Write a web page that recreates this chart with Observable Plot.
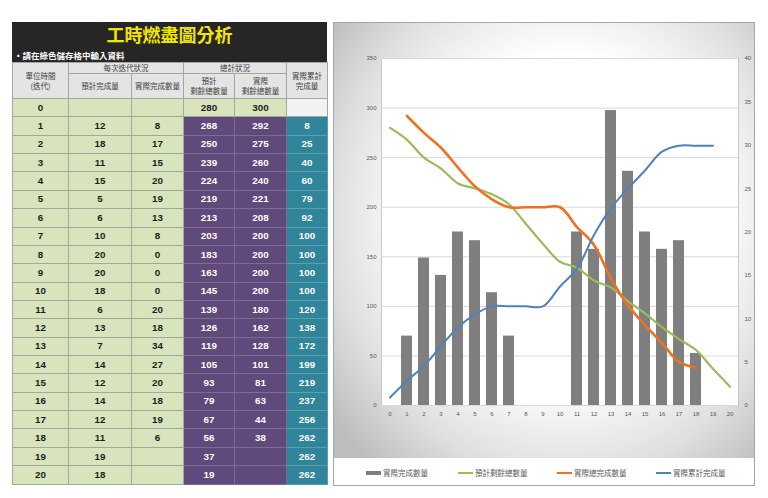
<!DOCTYPE html>
<html><head><meta charset="utf-8">
<script src="https://cdn.jsdelivr.net/npm/d3@7"></script>
<script src="https://cdn.jsdelivr.net/npm/@observablehq/plot@0.6"></script>
<style>
body{margin:0;background:#fff;width:768px;height:498px;position:relative;overflow:hidden;font-family:"Liberation Sans","Noto Sans CJK TC",sans-serif;}
#tbl{position:absolute;left:12px;top:22px;width:315px;}
#tbl .title{background:#262626;height:40px;position:relative;}
#tbl .title .t{position:absolute;left:0;right:0;top:0px;text-align:center;color:#f2e600;font:bold 18px "Noto Sans CJK TC",sans-serif;line-height:24px;}
#tbl .title .s{position:absolute;left:2px;top:27px;color:#fff;font:bold 8.5px "Noto Sans CJK TC",sans-serif;line-height:12px;}
table{border-collapse:collapse;table-layout:fixed;width:315px;}
td{border:1px solid #a3a89f;text-align:center;font-weight:bold;font-size:9.8px;padding:0;line-height:10px;overflow:hidden;white-space:pre-line;}
tr.d{height:18.36px;}
td.h{background:#e4e4e4;color:#404040;font-weight:normal;font-size:7.5px;font-family:"Noto Sans CJK TC",sans-serif;line-height:10px;}
td.g{background:#d8e4bc;color:#1d1d1d;}
td.p{background:#5f4a7b;color:#fff;border-color:#7d6b94;}
td.c{background:#31859b;color:#fff;border-color:#5a9fb0;}
td.w{background:#f2f2f2;}
#chart{position:absolute;left:333px;top:22px;width:420px;height:462px;border:1px solid #a6a6a6;background:#fff;}
#plotwrap{position:absolute;left:0;top:0;width:420px;height:435px;background:radial-gradient(ellipse 70% 75% at 55% 45%, #ffffff 50%, #e0e0e0 78%, #bdbdbd 100%);}
#legend{position:absolute;left:0;top:440px;width:420px;height:20px;font:7.5px "Noto Sans CJK TC",sans-serif;color:#595959;}
#legend .it{position:absolute;top:4px;display:flex;align-items:center;white-space:nowrap;}
#legend svg{margin-right:2px;}
</style></head>
<body>
<div id="tbl"><div class="title"><div class="t"></div><div class="s"></div></div><table id="tt"></table></div>
<div id="chart"><div id="plotwrap"></div><div id="legend"></div></div>
<script>
const titleText = "工時燃盡圖分析";
const noteText = "•請在綠色儲存格中輸入資料";
const groupHeaders = ["每次迭代狀況", "總計狀況"];
const colHeaders = ["單位時間\n(迭代)", "預計完成量", "實際完成數量", "預計\n剩餘總數量", "實際\n剩餘總數量", "實際累計\n完成量"];
const iterations = [0,1,2,3,4,5,6,7,8,9,10,11,12,13,14,15,16,17,18,19,20];
const plannedDone = [null,12,18,11,15,5,6,10,20,20,18,6,13,7,14,12,14,12,11,19,18];
const actualDone = [null,8,17,15,20,19,13,8,0,0,0,20,18,34,27,20,18,19,6,null,null];
const plannedRemaining = [280,268,250,239,224,219,213,203,183,163,145,139,126,119,105,93,79,67,56,37,19];
const actualRemaining = [300,292,275,260,240,221,208,200,200,200,200,180,162,128,101,81,63,44,38,null,null];
const cumulativeDone = [null,8,25,40,60,79,92,100,100,100,100,120,138,172,199,219,237,256,262,262,262];
const seriesNames = ["實際完成數量", "預計剩餘總數量", "實際總完成數量", "實際累計完成量"];
const seriesColors = ["#7f7f7f", "#9bbb59", "#f0701e", "#4f81bd"];
const leftTicks = [0,50,100,150,200,250,300,350];
const rightTicks = [0,5,10,15,20,25,30,35,40];

// ---- table ----
document.querySelector("#tbl .t").textContent = titleText;
document.querySelector("#tbl .s").textContent = noteText;
const tt = document.getElementById("tt");
const colW = [56,63,52,51,52,41];
let html = "<colgroup>" + colW.map(w => `<col style="width:${w}px">`).join("") + "</colgroup>";
html += `<tr style="height:11px"><td class="h" rowspan="2">${colHeaders[0]}</td><td class="h" colspan="2">${groupHeaders[0]}</td><td class="h" colspan="2">${groupHeaders[1]}</td><td class="h" rowspan="2">${colHeaders[5]}</td></tr>`;
html += `<tr style="height:25px">${colHeaders.slice(1,5).map(h => `<td class="h">${h}</td>`).join("")}</tr>`;
const fmt = v => v == null ? "" : v;
iterations.forEach((it, i) => {
  const r0 = i === 0;
  html += `<tr class="d">` +
    `<td class="g">${it}</td>` +
    `<td class="g">${fmt(plannedDone[i])}</td>` +
    `<td class="g">${fmt(actualDone[i])}</td>` +
    `<td class="${r0 ? "g" : "p"}">${fmt(plannedRemaining[i])}</td>` +
    `<td class="${r0 ? "g" : "p"}">${fmt(actualRemaining[i])}</td>` +
    `<td class="${r0 ? "w" : "c"}">${fmt(cumulativeDone[i])}</td>` + "</tr>";
});
tt.innerHTML = html;

// ---- chart ----
const k = 350 / 40;
const bars = iterations.map((x, i) => ({x, v: actualDone[i]})).filter(d => d.v != null);
const green = iterations.map((x, i) => ({x, v: plannedRemaining[i]}));
const orange = iterations.map((x, i) => ({x, v: actualRemaining[i]})).filter(d => d.x >= 1 && d.v != null);
const blue = iterations.map((x, i) => ({x: x - 1, v: cumulativeDone[i]})).filter(d => d.v != null);

const chart = Plot.plot({
  width: 420, height: 435,
  marginLeft: 47, marginRight: 16, marginTop: 35, marginBottom: 53,
  style: {background: "transparent", fontSize: "6px", color: "#595959", fontFamily: "Liberation Sans, sans-serif"},
  x: {type: "band", domain: iterations, paddingInner: 0.35, paddingOuter: 0.175, label: null},
  y: {domain: [0, 350], label: null},
  marks: [
    Plot.frame({fill: "white", stroke: "#c8c8c8"}),
    Plot.gridY(leftTicks, {stroke: "#d9d9d9", strokeOpacity: 1}),
    Plot.axisY(leftTicks, {anchor: "left", tickSize: 0, tickPadding: 5, label: null}),
    Plot.axisY(rightTicks.map(v => v * k), {anchor: "right", tickSize: 0, tickPadding: 6, label: null, tickFormat: d => Math.round(d / k)}),
    Plot.axisX({tickSize: 0, tickPadding: 6, label: null}),
    Plot.barY(bars, {x: "x", y: d => d.v * k, fill: seriesColors[0]}),
    Plot.line(green, {x: "x", y: "v", stroke: seriesColors[1], strokeWidth: 2.2, curve: "catmull-rom"}),
    Plot.line(orange, {x: "x", y: "v", stroke: seriesColors[2], strokeWidth: 2.6, curve: "catmull-rom"}),
    Plot.line(blue, {x: "x", y: "v", stroke: seriesColors[3], strokeWidth: 2, curve: "catmull-rom"})
  ]
});
document.getElementById("plotwrap").appendChild(chart);

// ---- legend ----
const legendX = [32, 124, 223, 322];
const lg = document.getElementById("legend");
seriesNames.forEach((n, i) => {
  const d = document.createElement("div");
  d.className = "it";
  d.style.left = legendX[i] + "px";
  d.innerHTML = `<svg width="15" height="6"><line x1="0" x2="15" y1="3" y2="3" stroke="${seriesColors[i]}" stroke-width="${i === 0 ? 4 : 2}"/></svg><span>${n}</span>`;
  lg.appendChild(d);
});
</script>
</body></html>
